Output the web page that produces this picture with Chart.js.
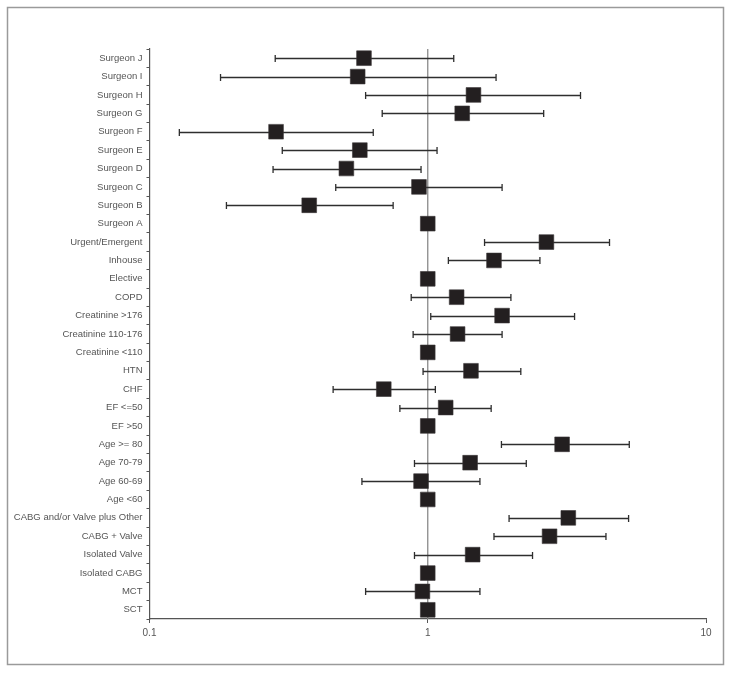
<!DOCTYPE html>
<html>
<head>
<meta charset="utf-8">
<script src="https://cdn.jsdelivr.net/npm/chart.js@4"></script>
<style>
  html, body { margin: 0; padding: 0; background: #fff; }
  #wrap { position: relative; width: 731px; height: 673px; }
</style>
</head>
<body>
<div id="wrap"><canvas id="forest"></canvas></div>
<script>
// rows, top to bottom
var labels = ['Surgeon J', 'Surgeon I', 'Surgeon H', 'Surgeon G', 'Surgeon F', 'Surgeon E',
	'Surgeon D', 'Surgeon C', 'Surgeon B', 'Surgeon A', 'Urgent/Emergent', 'Inhouse', 'Elective',
	'COPD', 'Creatinine >176', 'Creatinine 110-176', 'Creatinine <110', 'HTN', 'CHF', 'EF <=50',
	'EF >50', 'Age >= 80', 'Age 70-79', 'Age 60-69', 'Age <60', 'CABG and/or Valve plus Other',
	'CABG + Valve', 'Isolated Valve', 'Isolated CABG', 'MCT', 'SCT'];

// odds ratio estimates
var estimate = [0.59, 0.56, 1.46, 1.33, 0.285, 0.57, 0.51, 0.93, 0.375, 1, 2.67, 1.73, 1,
	1.27, 1.85, 1.28, 1, 1.43, 0.695, 1.16, 1, 3.04, 1.42, 0.946, 1, 3.2, 2.74, 1.45, 1, 0.957, 1];

// lower and upper 95% CI (null = reference category)
var lower = [0.283, 0.18, 0.598, 0.686, 0.128, 0.30, 0.278, 0.467, 0.189, null, 1.60, 1.186, null,
	0.872, 1.025, 0.886, null, 0.962, 0.457, 0.794, null, 1.84, 0.896, 0.58, null, 1.96, 1.73, 0.896, null, 0.598, null];
var upper = [1.24, 1.76, 3.54, 2.61, 0.637, 1.08, 0.946, 1.85, 0.751, null, 4.50, 2.53, null,
	1.99, 3.37, 1.85, null, 2.16, 1.065, 1.69, null, 5.30, 2.26, 1.54, null, 5.27, 4.37, 2.38, null, 1.54, null];

var xTicks = [0.1, 1, 10];

var points = labels.map(function (l, i) { return { x: estimate[i], y: l }; });

// frame, reference line at 1 and CI whiskers
var forestPlugin = {
	id: 'forest',
	beforeDraw: function (chart) {
		var ctx = chart.ctx;
		ctx.save();
		ctx.strokeStyle = '#9a9a9a';
		ctx.lineWidth = 1.5;
		ctx.strokeRect(7.5, 7.5, 716, 657);
		ctx.restore();
	},
	beforeDatasetsDraw: function (chart) {
		var ctx = chart.ctx;
		var xs = chart.scales.x, ys = chart.scales.y;
		var area = chart.chartArea;
		ctx.save();
		// line of no effect
		var x1 = xs.getPixelForValue(1);
		ctx.strokeStyle = '#8a8a8a';
		ctx.lineWidth = 1.3;
		ctx.beginPath();
		ctx.moveTo(x1, area.top);
		ctx.lineTo(x1, area.bottom);
		ctx.stroke();
		// whiskers
		ctx.strokeStyle = '#2e2e2e';
		ctx.lineWidth = 1.3;
		for (var i = 0; i < labels.length; i++) {
			if (lower[i] == null) continue;
			var y = Math.round(ys.getPixelForValue(i)) + 0.5;
			var a = xs.getPixelForValue(lower[i]);
			var b = xs.getPixelForValue(upper[i]);
			ctx.beginPath();
			ctx.moveTo(a, y); ctx.lineTo(b, y);
			ctx.moveTo(a, y - 3.5); ctx.lineTo(a, y + 3.5);
			ctx.moveTo(b, y - 3.5); ctx.lineTo(b, y + 3.5);
			ctx.stroke();
		}
		ctx.restore();
	}
};

var config = {
	type: 'scatter',
	data: {
		datasets: [{
			data: points,
			pointStyle: 'rect',
			pointRadius: 10.4,
			pointHoverRadius: 10.4,
			backgroundColor: '#231f20',
			borderColor: '#3a3638',
			borderWidth: 0.6
		}]
	},
	options: {
		responsive: true,
		maintainAspectRatio: false,
		animation: false,
		layout: {
			padding: { top: 49, right: 25, left: 0, bottom: 0 }
		},
		plugins: {
			legend: { display: false },
			tooltip: { enabled: false }
		},
		scales: {
			x: {
				type: 'logarithmic',
				min: 0.1,
				max: 10,
				afterBuildTicks: function (scale) {
					scale.ticks = xTicks.map(function (v) { return { value: v }; });
				},
				afterFit: function (scale) { scale.height = 54; },
				ticks: {
					color: '#555',
					padding: 4,
					font: { family: 'Liberation Sans', size: 10 },
					callback: function (v) { return String(v); },
					maxRotation: 0
				},
				grid: { drawOnChartArea: false, tickLength: 4, color: '#555' },
				border: { color: '#555', width: 1.2 }
			},
			y: {
				type: 'category',
				labels: labels,
				offset: true,
				afterFit: function (scale) { scale.width = 149.5; },
				ticks: {
					color: '#555',
					padding: 4,
					autoSkip: false,
					font: { family: 'Liberation Sans', size: 9.5 }
				},
				grid: { drawOnChartArea: false, offset: true, tickLength: 3, color: '#555' },
				border: { color: '#555', width: 1.2 }
			}
		}
	},
	plugins: [forestPlugin]
};

var ctx = document.getElementById('forest').getContext('2d');
var forest = new Chart(ctx, config);
</script>
</body>
</html>
